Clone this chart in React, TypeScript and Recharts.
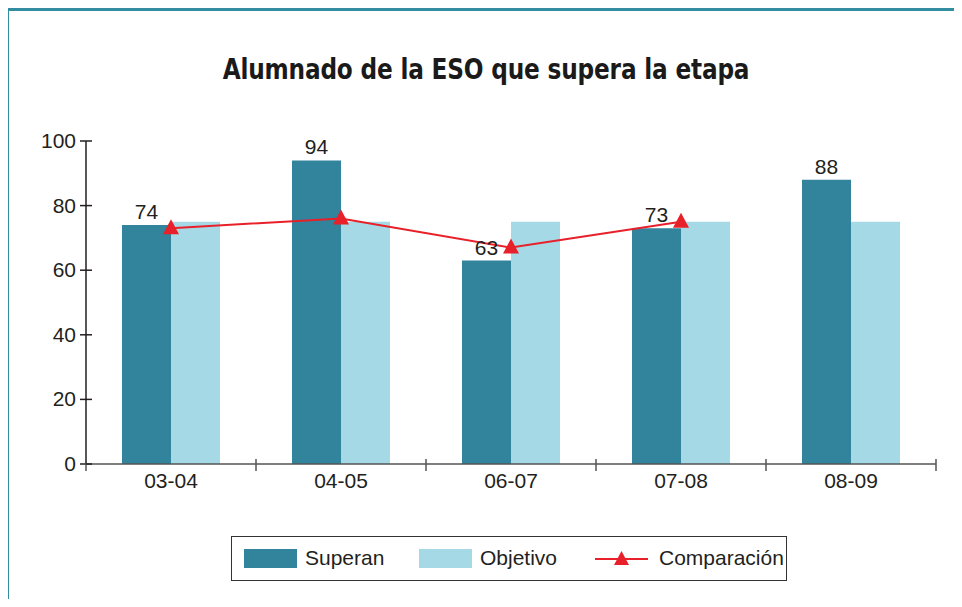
import React from "react";
import { ComposedChart, Bar, Line, XAxis, YAxis, LabelList } from "recharts";

const categories = ["03-04", "04-05", "06-07", "07-08", "08-09"];
const superan = [74, 94, 63, 73, 88];
const objetivo = [75, 75, 75, 75, 75];
const comparacion: (number | null)[] = [73, 76, 67, 75, null];
const yTicks = [0, 20, 40, 60, 80, 100];
const boundaryTicks = [0, 1, 2, 3, 4, 5];

const TITLE = "Alumnado de la ESO que supera la etapa";
const C_SUP = "#31849b";
const C_OBJ = "#a6d9e6";
const C_CMP = "#e8202a";
const TEXT = "#231f20";
const FONT = "'Liberation Sans', Arial, sans-serif";

const data = categories.map((c, i) => ({
  cat: c,
  idx: i + 0.5,
  superan: superan[i],
  objetivo: objetivo[i],
  comparacion: comparacion[i],
}));

const Triangle = (props: any) => {
  const { cx, cy, value } = props;
  if (value == null || cx == null || cy == null) return null;
  return (
    <path
      d={`M${cx},${cy - 9} L${cx + 8},${cy + 6} L${cx - 8},${cy + 6} Z`}
      fill={C_CMP}
      stroke="none"
    />
  );
};

const BoundaryTick = (props: any) => {
  const { x, y } = props;
  return <line x1={x} x2={x} y1={y - 5} y2={y + 7} stroke="#555" strokeWidth={1.5} />;
};

const YTick = (props: any) => {
  const { x, y, payload } = props;
  const ax = x + 10;
  return (
    <g>
      <line x1={ax} x2={ax + 6} y1={y} y2={y} stroke={TEXT} strokeWidth={1.5} />
      <text x={x} y={y} dy={7} textAnchor="end" fontSize={21} fill={TEXT} fontFamily={FONT}>
        {payload.value}
      </text>
    </g>
  );
};

const XTick = (props: any) => {
  const { x, y, payload } = props;
  return (
    <text x={x} y={y} dy={23} textAnchor="middle" fontSize={21} fill={TEXT} fontFamily={FONT}>
      {payload.value}
    </text>
  );
};

const legendItems = [
  { name: "Superan", color: C_SUP, kind: "bar" },
  { name: "Objetivo", color: C_OBJ, kind: "bar" },
  { name: "Comparación", color: C_CMP, kind: "line" },
];

export default function App() {
  return (
    <div style={{ position: "relative", width: 962, height: 607, margin: -8, background: "#fff", overflow: "hidden" }}>
      <div style={{ position: "absolute", left: 6, top: 8, right: 0, height: 2.5, background: "#338da0" }} />
      <div style={{ position: "absolute", left: 6, top: 8, bottom: 0, width: 2.5, background: "#338da0" }} />
      <div
        style={{
          position: "absolute",
          left: 0,
          width: 972,
          top: 52,
          textAlign: "center",
          fontFamily: "'DejaVu Sans Condensed', 'DejaVu Sans', sans-serif",
          fontStretch: "condensed",
          fontWeight: 700,
          fontSize: 29,
          lineHeight: "34px",
          color: "#1a1a1a",
          letterSpacing: -0.2,
          transform: "scaleX(0.89)",
          transformOrigin: "486px 0",
          whiteSpace: "nowrap",
        }}
      >
        {TITLE}
      </div>
      <div style={{ position: "absolute", left: 0, top: 0 }}>
        <ComposedChart
          width={962}
          height={607}
          data={data}
          margin={{ top: 141, right: 26, bottom: 112, left: 0 }}
          barCategoryGap={36}
          barGap={0}
        >
          <XAxis
            xAxisId="a"
            type="number"
            dataKey="idx"
            domain={[0, 5]}
            ticks={boundaryTicks}
            axisLine={{ stroke: "#555", strokeWidth: 1.5 }}
            tickLine={false}
            tickSize={0}
            tickMargin={0}
            height={1}
            tick={<BoundaryTick />}
            interval={0}
            allowDataOverflow
          />
          <XAxis
            xAxisId="z"
            dataKey="cat"
            axisLine={false}
            tickLine={false}
            tickSize={0}
            tickMargin={0}
            height={30}
            tick={<XTick />}
            interval={0}
          />
          <YAxis
            domain={[0, 100]}
            ticks={yTicks}
            width={86}
            axisLine={{ stroke: TEXT, strokeWidth: 1.5 }}
            tickLine={{ stroke: TEXT, strokeWidth: 1.5 }}
            tickSize={6}
            tickMargin={4}
            tick={<YTick />}
            interval={0}
          />
          <Bar xAxisId="z" dataKey="superan" fill={C_SUP} isAnimationActive={false}>
            <LabelList dataKey="superan" position="top" offset={6} fontSize={21} fill={TEXT} fontFamily={FONT} />
          </Bar>
          <Bar xAxisId="z" dataKey="objetivo" fill={C_OBJ} isAnimationActive={false} />
          <Line
            xAxisId="z"
            dataKey="comparacion"
            stroke={C_CMP}
            strokeWidth={2}
            dot={<Triangle />}
            activeDot={false}
            connectNulls={false}
            isAnimationActive={false}
          />
        </ComposedChart>
      </div>
      <div
        style={{
          position: "absolute",
          left: 231,
          top: 536,
          width: 556,
          height: 45,
          border: "1.5px solid #333",
          boxSizing: "border-box",
          fontFamily: FONT,
          fontSize: 21,
          color: TEXT,
        }}
      >
        {legendItems.map((it, i) => {
          const lefts = [12, 187, 363];
          const l = lefts[i];
          return (
            <div key={it.name} style={{ position: "absolute", left: l, top: 0, height: 42, display: "flex", alignItems: "center" }}>
              {it.kind === "bar" ? (
                <div style={{ width: 53, height: 19, background: it.color }} />
              ) : (
                <svg width={53} height={20}>
                  <line x1={0} x2={53} y1={11} y2={11} stroke={it.color} strokeWidth={2} />
                  <path d="M26.5,3 L34,17 L19,17 Z" fill={it.color} />
                </svg>
              )}
              <span style={{ marginLeft: it.kind === "bar" ? 8 : 11 }}>{it.name}</span>
            </div>
          );
        })}
      </div>
    </div>
  );
}
